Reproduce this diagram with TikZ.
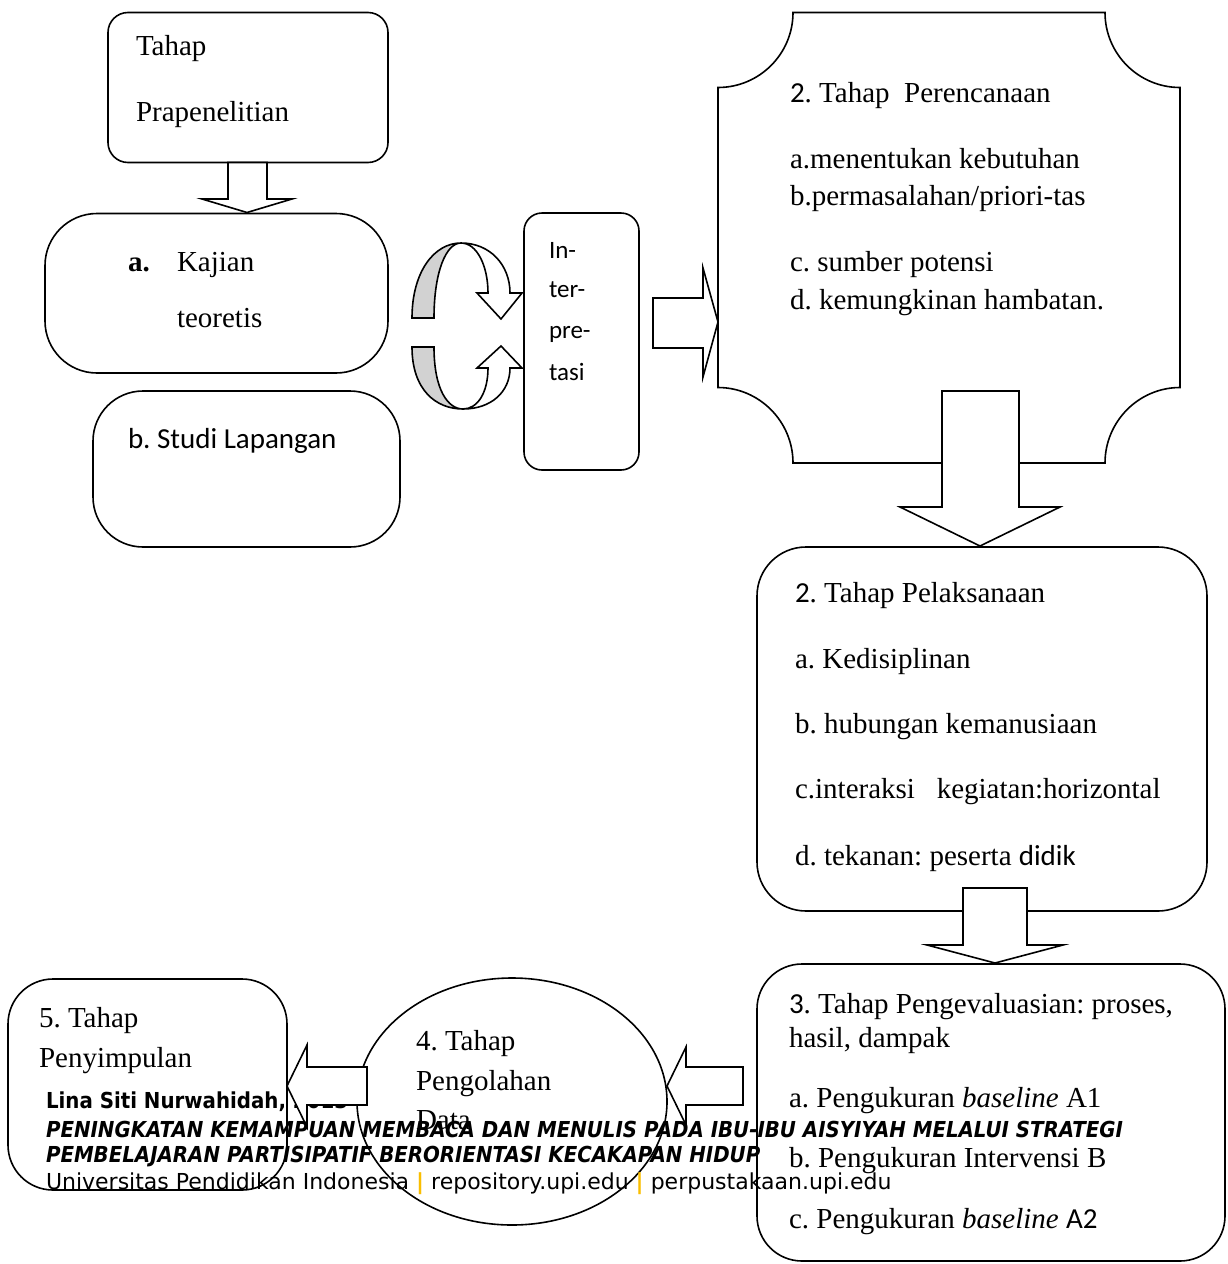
\documentclass[tikz,border=0pt]{standalone}
\usepackage{fontspec}
\setmainfont{Liberation Serif}
\setsansfont{Carlito}
\newfontfamily\footfont[FakeStretch=0.9]{DejaVu Sans}
\newfontfamily\footreg{DejaVu Sans}
\usetikzlibrary{shapes.geometric}
\definecolor{barcol}{RGB}{250,190,0}
\definecolor{bandgray}{RGB}{210,210,210}
\frenchspacing
\begin{document}
\frenchspacing
\begin{tikzpicture}[x=1pt,y=-1pt,line width=1.6pt,line join=miter,
  rbox/.style={draw,inner sep=0pt,outer sep=0pt},
  txt/.style={anchor=base west,inner sep=0pt,outer sep=0pt,font=\frenchspacing\fontsize{29}{35}\selectfont},
  stxt/.style={anchor=base west,inner sep=0pt,outer sep=0pt,font=\frenchspacing\sffamily\fontsize{29}{35}\selectfont},
  itxt/.style={anchor=base west,inner sep=0pt,outer sep=0pt,font=\sffamily\fontsize{25}{30}\selectfont},
  ftxt/.style={anchor=base west,inner sep=0pt,outer sep=0pt,font=\footfont\fontsize{22}{26}\selectfont},
  rtxt/.style={anchor=base west,inner sep=0pt,outer sep=0pt,font=\footreg\fontsize{22}{26}\selectfont},
  barrow/.style={draw,fill=white},
  band/.style={draw,fill=bandgray}]
\useasboundingbox[fill=white] (0,0) rectangle (1227,1264);

% ---------- boxes ----------
\node[rbox,rounded corners=20pt,minimum width=280pt,minimum height=150pt] (pra) at (248,87.5) {};
\node[rbox,rounded corners=52pt,minimum width=343pt,minimum height=159.5pt] (kaj) at (216.5,293.25) {};
\node[rbox,rounded corners=50pt,minimum width=307pt,minimum height=156pt] (stu) at (246.5,469) {};
\node[rbox,rounded corners=18pt,minimum width=115pt,minimum height=257pt] (int) at (581.5,341.5) {};
\draw (793,12.5) -- (1105,12.5) .. controls (1105,53.9) and (1138.6,87.5) .. (1180,87.5)
  -- (1180,387.5) .. controls (1138.6,387.5) and (1105,421.6) .. (1105,463)
  -- (793,463) .. controls (793,421.6) and (759.4,387.5) .. (718,387.5)
  -- (718,87.5) .. controls (759.4,87.5) and (793,53.9) .. (793,12.5) -- cycle;
\coordinate (ren) at (949,237.75);
\node[rbox,rounded corners=49pt,minimum width=450pt,minimum height=364pt] (pel) at (982,729) {};
\node[rbox,rounded corners=45pt,minimum width=468pt,minimum height=297pt] (eva) at (991,1112.5) {};
\node[rbox,ellipse,minimum width=310pt,minimum height=247pt] (olah) at (512,1101.5) {};
\node[rbox,rounded corners=45pt,minimum width=279pt,minimum height=211pt] (sim) at (147.5,1084.5) {};

% ---------- texts ----------
\node[txt] (t1a) at (136,55) {Tahap};
\node[txt] (t1b) at (136,121) {Prapenelitian};
\node[txt] (t2a) at (128,271) {\textbf{a.}};
\node[txt] (t2b) at (177,271) {Kajian};
\node[txt] (t2c) at (177,327) {teoretis};
\node[stxt] (t3) at (128,448) {b. Studi Lapangan};
\node[itxt] (ti1) at (549,258) {In-};
\node[itxt] (ti2) at (549,297) {ter-};
\node[itxt] (ti3) at (549,338) {pre-};
\node[itxt] (ti4) at (549,380) {tasi};
\node[txt] (tr1) at (790,102) {{\sffamily 2}. Tahap\ \ Perencanaan};
\node[txt] (tr2) at (790,168) {a.menentukan kebutuhan};
\node[txt] (tr3) at (790,205) {b.permasalahan/priori-tas};
\node[txt] (tr4) at (790,271) {c. sumber potensi};
\node[txt] (tr5) at (790,309) {d. kemungkinan hambatan.};
\node[txt] (tp1) at (795,602) {{\sffamily 2}. Tahap Pelaksanaan};
\node[txt] (tp2) at (795,668) {a. Kedisiplinan};
\node[txt] (tp3) at (795,733) {b. hubungan kemanusiaan};
\node[txt] (tp4) at (795,798) {c.interaksi\ \ \ kegiatan:horizontal};
\node[txt] (tp5) at (795,865) {d. tekanan: peserta {\sffamily didik}};
\node[txt] (te1) at (789,1013) {{\sffamily 3}. Tahap Pengevaluasian: proses,};
\node[txt] (te2) at (789,1047) {hasil, dampak};
\node[txt] (te3) at (789,1107) {a. Pengukuran \textit{baseline} A1};
\node[txt] (te4) at (789,1167) {b. Pengukuran Intervensi B};
\node[txt] (te5) at (789,1228) {c. Pengukuran \textit{baseline} {\sffamily A2}};
\node[txt] (to1) at (416,1050) {4. Tahap};
\node[txt] (to2) at (416,1090) {Pengolahan};
\node[txt] (to3) at (416,1129) {Data};
\node[txt] (ts1) at (39,1027) {5. Tahap};
\node[txt] (ts2) at (39,1067) {Penyimpulan};

% footer line under the arrows
\node[ftxt] (f1) at (46,1108) {\bfseries Lina Siti Nurwahidah, 2013};

% ---------- block arrows ----------
% Prapenelitian -> Kajian
\draw[barrow] (228,162.5) -- (267,162.5) -- (267,199) -- (292,199) -- (247,212.5) -- (202,199) -- (228,199) -- cycle;
% circular arrows
\draw[band] (412,318) .. controls (412,272) and (434,243) .. (461,243) .. controls (446,243) and (434,272) .. (434,318) -- cycle;
\draw[barrow] (461,243) .. controls (490,243) and (510,265) .. (510,293) -- (522,293) -- (501,319) -- (477,293) -- (488,293) .. controls (488,266) and (477,243) .. (461,243) -- cycle;
\draw[band] (412,347) .. controls (412,390) and (436,409) .. (463,409) .. controls (448,409) and (434,390) .. (434,347) -- cycle;
\draw[barrow] (463,409) .. controls (491,409) and (510,392) .. (510,368) -- (522,368) -- (501,346) -- (477,368) -- (488,368) .. controls (488,392) and (478,409) .. (463,409) -- cycle;
% Interpretasi -> Perencanaan
\draw[barrow] (653,298) -- (703,298) -- (703,268) -- (718,322) -- (703,377) -- (703,348) -- (653,348) -- cycle;
% Perencanaan -> Pelaksanaan
\draw[barrow] (942,391) -- (1019,391) -- (1019,507) -- (1060,507) -- (980,546) -- (900,507) -- (942,507) -- cycle;
% Pelaksanaan -> Pengevaluasian
\draw[barrow] (963,888) -- (1027,888) -- (1027,945) -- (1063,945) -- (995,963) -- (927,945) -- (963,945) -- cycle;
% Pengevaluasian -> Pengolahan
\draw[barrow] (743,1067) -- (743,1105) -- (686,1105) -- (686,1125) -- (667,1086) -- (686,1047) -- (686,1067) -- cycle;
% Pengolahan -> Penyimpulan
\draw[barrow] (367,1067) -- (367,1105) -- (307,1105) -- (307,1127) -- (287,1086) -- (307,1045) -- (307,1067) -- cycle;

% ---------- footer ----------
\node[ftxt] (f2) at (46,1137) {\bfseries\itshape PENINGKATAN KEMAMPUAN MEMBACA DAN MENULIS PADA IBU-IBU AISYIYAH MELALUI STRATEGI};
\node[ftxt] (f3) at (46,1162) {\bfseries\itshape PEMBELAJARAN PARTISIPATIF BERORIENTASI KECAKAPAN HIDUP};
\node[rtxt] (f4) at (46,1189) {Universitas Pendidikan Indonesia \textcolor{barcol}{\bfseries|} repository.upi.edu \textcolor{barcol}{\bfseries|} perpustakaan.upi.edu};
\end{tikzpicture}
\end{document}
